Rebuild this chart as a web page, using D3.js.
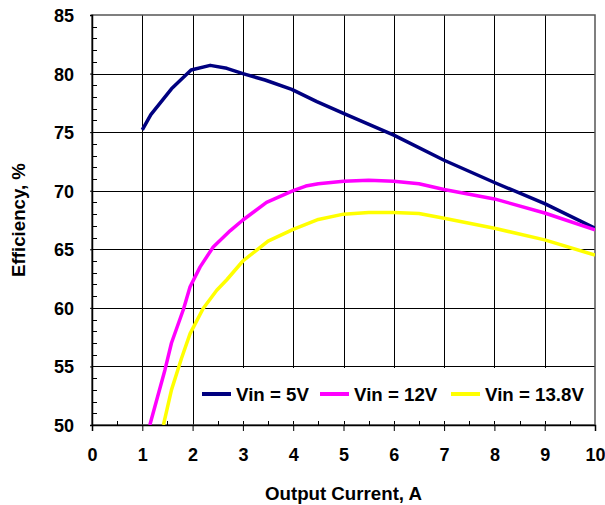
<!DOCTYPE html>
<html>
<head>
<meta charset="utf-8">
<script src="https://cdn.jsdelivr.net/npm/d3@7"></script>
<style>
  html, body { margin: 0; padding: 0; background: #fff; }
  svg text { font-family: "Liberation Sans", Arial, sans-serif; font-weight: bold; fill: #000; }
</style>
</head>
<body>
<div id="chart"></div>
<script>
// ---- data ----
const seriesNames = ["Vin = 5V", "Vin = 12V", "Vin = 13.8V"];
const seriesColors = ["#000080", "#ff00ff", "#ffff00"];

const current5 = [1, 1.17, 1.58, 1.97, 2.35, 2.68, 3.0, 3.44, 3.97, 4.47, 5.0, 6.0, 7.0, 8.0, 9.0, 10];
const eff5 = [75.2, 76.5, 78.7, 80.3, 80.7, 80.45, 80.0, 79.45, 78.65, 77.6, 76.6, 74.75, 72.6, 70.7, 68.9, 66.8];

const current12 = [1.15, 1.45, 1.58, 1.82, 1.95, 2.15, 2.41, 2.75, 3.0, 3.47, 4.0, 4.25, 4.5, 5.0, 5.5, 6.0, 6.5, 7.0, 8.0, 9.0, 10];
const eff12 = [50, 54.7, 57.0, 59.9, 61.8, 63.5, 65.2, 66.6, 67.5, 69.0, 70.0, 70.4, 70.6, 70.8, 70.9, 70.8, 70.6, 70.1, 69.3, 68.1, 66.65];

const current138 = [1.42, 1.58, 1.78, 1.95, 2.21, 2.48, 2.68, 3.0, 3.5, 4.0, 4.5, 5.0, 5.5, 6.0, 6.5, 7.0, 8.0, 9.0, 10];
const eff138 = [50, 53, 55.7, 57.8, 59.95, 61.5, 62.4, 64.0, 65.7, 66.7, 67.55, 68.0, 68.15, 68.15, 68.05, 67.65, 66.8, 65.8, 64.5];

const xTicks = [0, 1, 2, 3, 4, 5, 6, 7, 8, 9, 10];
const yTicks = [50, 55, 60, 65, 70, 75, 80, 85];

const series = [
  { name: seriesNames[0], color: seriesColors[0], xs: current5, ys: eff5 },
  { name: seriesNames[1], color: seriesColors[1], xs: current12, ys: eff12 },
  { name: seriesNames[2], color: seriesColors[2], xs: current138, ys: eff138 }
];

// ---- layout ----
const W = 605, H = 505;
const margin = { top: 15, right: 10, bottom: 80, left: 92 };
const width = W - margin.left - margin.right;
const height = H - margin.top - margin.bottom;

const svg = d3.select("#chart").append("svg")
  .attr("width", W)
  .attr("height", H);

const g = svg.append("g")
  .attr("transform", `translate(${margin.left},${margin.top})`);

const x = d3.scaleLinear().domain([0, 10]).range([0, width]);
const y = d3.scaleLinear().domain([50, 85]).range([height, 0]);

g.append("clipPath").attr("id", "plot-clip")
  .append("rect").attr("width", width).attr("height", height);

// grid
g.append("g")
  .selectAll("line")
  .data(xTicks.slice(1, -1))
  .enter().append("line")
  .attr("x1", d => Math.round(x(d)) + 0.5)
  .attr("x2", d => Math.round(x(d)) + 0.5)
  .attr("y1", 0)
  .attr("y2", height)
  .attr("stroke", "#000")
  .attr("stroke-width", 1);

g.append("g")
  .selectAll("line")
  .data(yTicks.slice(1, -1))
  .enter().append("line")
  .attr("y1", d => Math.round(y(d)) + 0.5)
  .attr("y2", d => Math.round(y(d)) + 0.5)
  .attr("x1", 0)
  .attr("x2", width)
  .attr("stroke", "#000")
  .attr("stroke-width", 1);

// frame
g.append("rect")
  .attr("x", 0).attr("y", 0)
  .attr("width", width).attr("height", height)
  .attr("fill", "none")
  .attr("stroke", "#555")
  .attr("stroke-width", 1.5);

// minor ticks (inside)
g.append("g")
  .selectAll("line")
  .data(d3.range(51, 85).filter(v => v % 5 !== 0))
  .enter().append("line")
  .attr("x1", 0).attr("x2", 5)
  .attr("y1", d => Math.round(y(d)) + 0.5)
  .attr("y2", d => Math.round(y(d)) + 0.5)
  .attr("stroke", "#000");

g.append("g")
  .selectAll("line")
  .data(d3.range(0.5, 10, 1))
  .enter().append("line")
  .attr("x1", d => Math.round(x(d)) + 0.5)
  .attr("x2", d => Math.round(x(d)) + 0.5)
  .attr("y1", height).attr("y2", height - 4)
  .attr("stroke", "#000");

// axes
const xAxis = g.append("g")
  .attr("transform", `translate(0,${height})`)
  .call(d3.axisBottom(x).tickValues(xTicks).tickSize(6).tickPadding(0).tickFormat(d3.format("d")));
xAxis.select(".domain").attr("stroke", "#000").attr("stroke-width", 1.5);
xAxis.selectAll(".tick line").attr("stroke", "#000");
xAxis.selectAll(".tick text")
  .attr("y", 36).attr("dy", null)
  .style("font-size", "18px");

const yAxis = g.append("g")
  .call(d3.axisLeft(y).tickValues(yTicks).tickSize(2).tickPadding(16));
yAxis.select(".domain").attr("stroke", "#000").attr("stroke-width", 1.5);
yAxis.selectAll(".tick line").attr("stroke", "#000");
yAxis.selectAll(".tick text")
  .attr("dy", "0.36em")
  .style("font-size", "18px");

// series lines
const line = d3.line()
  .x(d => x(d[0]))
  .y(d => y(d[1]));

g.append("g")
  .attr("clip-path", "url(#plot-clip)")
  .selectAll("path")
  .data(series)
  .enter().append("path")
  .attr("d", s => line(s.xs.map((v, i) => [v, s.ys[i]])))
  .attr("fill", "none")
  .attr("stroke", s => s.color)
  .attr("stroke-width", 3.5)
  .attr("stroke-linejoin", "round");

// legend (white box inside plot, no border)
const legend = svg.append("g")
  .attr("transform", "translate(196, 368)");

legend.append("rect")
  .attr("width", 398)
  .attr("height", 53)
  .attr("fill", "#fff");

const legendX = [6, 124, 255];
const items = legend.selectAll(".item")
  .data(series)
  .enter().append("g")
  .attr("class", "item")
  .attr("transform", (d, i) => `translate(${legendX[i]}, 26)`);

items.append("line")
  .attr("x1", 0).attr("x2", 29)
  .attr("y1", 0).attr("y2", 0)
  .attr("stroke", d => d.color)
  .attr("stroke-width", 4);

items.append("text")
  .attr("x", 34)
  .attr("y", 7)
  .style("font-size", "18.7px")
  .text(d => d.name);

// axis titles
svg.append("text")
  .attr("x", margin.left + width / 2)
  .attr("y", 500)
  .attr("text-anchor", "middle")
  .style("font-size", "18.7px")
  .text("Output Current, A");

svg.append("text")
  .attr("transform", `translate(25, ${margin.top + height / 2}) rotate(-90)`)
  .attr("text-anchor", "middle")
  .style("font-size", "18.7px")
  .text("Efficiency, %");
</script>
</body>
</html>
